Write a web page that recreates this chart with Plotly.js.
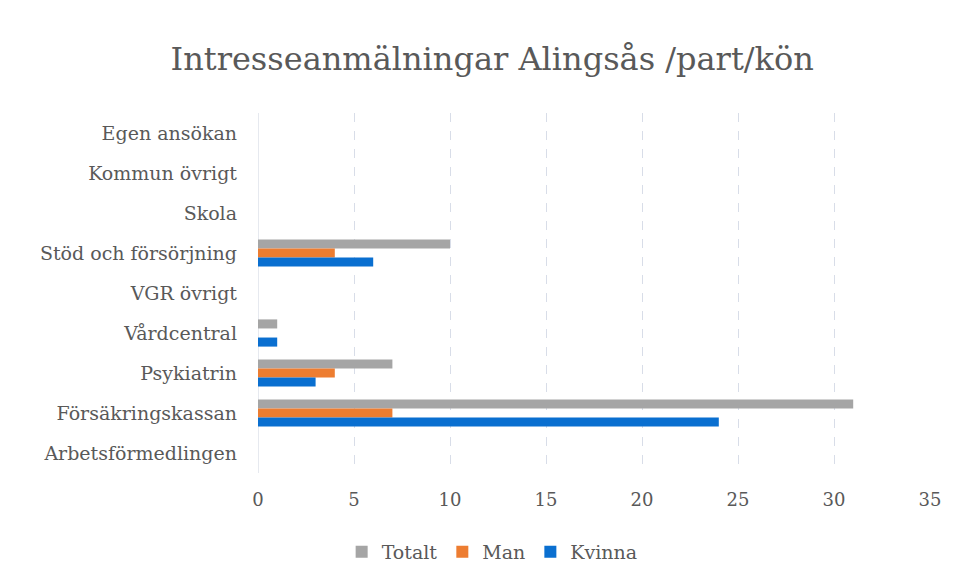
<!DOCTYPE html>
<html>
<head>
<meta charset="utf-8">
<script src="https://cdn.plot.ly/plotly-3.0.1.min.js"></script>
<style>
  html, body { margin: 0; padding: 0; background: #fff; }
  #chart { width: 965px; height: 584px; }
</style>
</head>
<body>
<div id="chart"></div>
<script>
// categories, top to bottom
const categories = ['Egen ansökan', 'Kommun övrigt', 'Skola', 'Stöd och försörjning', 'VGR övrigt',
  'Vårdcentral', 'Psykiatrin', 'Försäkringskassan', 'Arbetsförmedlingen'];
const totalt = [0, 0, 0, 10, 0, 1, 7, 31, 0];
const man = [0, 0, 0, 4, 0, 0, 4, 7, 0];
const kvinna = [0, 0, 0, 6, 0, 1, 3, 24, 0];

const font = 'DejaVu Serif, Liberation Serif, serif';
const grey = '#595959';

const series = [
  { name: 'Totalt', values: totalt, color: '#a5a5a5' },
  { name: 'Man', values: man, color: '#ed7d31' },
  { name: 'Kvinna', values: kvinna, color: '#0a6fd0' }
];

const traces = series.map(s => ({
  type: 'bar',
  orientation: 'h',
  name: s.name,
  y: categories,
  x: s.values,
  marker: { color: s.color },
  hoverinfo: 'x+name'
}));

const layout = {
  width: 965,
  height: 584,
  margin: { l: 258, r: 35, t: 113, b: 111 },
  paper_bgcolor: '#fff',
  plot_bgcolor: '#fff',
  font: { family: font, color: grey, size: 18 },
  title: {
    text: 'Intresseanmälningar Alingsås /part/kön',
    font: { family: font, size: 32, color: grey },
    xref: 'container', x: 0.51, y: 0.9, yanchor: 'middle'
  },
  barmode: 'group',
  bargap: 0.32,
  bargroupgap: 0,
  xaxis: {
    range: [0, 35],
    dtick: 5,
    showgrid: true,
    gridcolor: '#d8dde8',
    griddash: 'dash',
    zeroline: true,
    zerolinecolor: '#e6e9ef',
    zerolinewidth: 1,
    showline: false,
    ticks: '',
    tickfont: { family: font, size: 18, color: grey },
    ticklabelstandoff: 14
  },
  yaxis: {
    type: 'category',
    autorange: 'reversed',
    showgrid: false,
    showline: false,
    zeroline: false,
    ticks: '',
    ticklabelstandoff: 20,
    tickfont: { family: font, size: 19, color: grey }
  },
  legend: {
    orientation: 'h',
    xref: 'container', yref: 'container',
    x: 0.51, xanchor: 'center',
    y: 0.055, yanchor: 'middle',
    font: { family: font, size: 19, color: grey },
    itemwidth: 30
  },
  showlegend: true
};

Plotly.newPlot('chart', traces, layout, { displayModeBar: false, responsive: false });
</script>
</body>
</html>
